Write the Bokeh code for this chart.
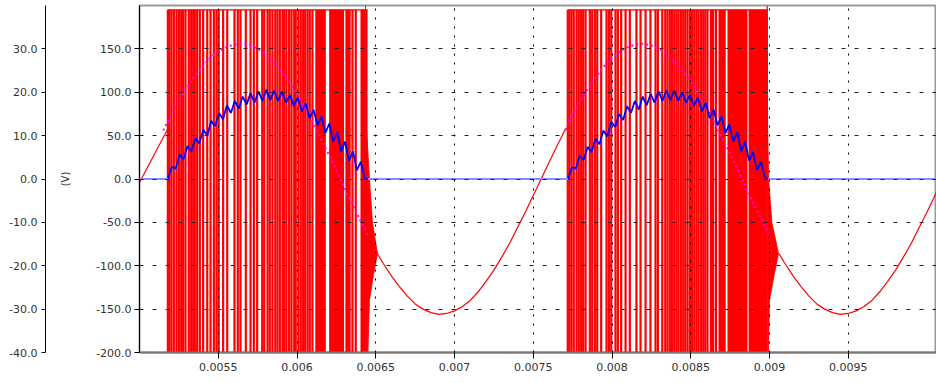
from bokeh.plotting import figure
from bokeh.models import Range1d, LinearAxis, FixedTicker, PrintfTickFormatter, CustomJSTickFormatter, Title
from bokeh.embed import file_html
from bokeh.resources import INLINE

# ---------------- data ----------------
x_ticks = [0.0055, 0.006, 0.0065, 0.007, 0.0075, 0.008, 0.0085, 0.009, 0.0095]
inner_ticks = [-200, -150, -100, -50, 0, 50, 100, 150]
outer_ticks = [-40, -30, -20, -10, 0, 10, 20, 30]

pulse_high = 195
pulse_low = -215

# switching pulses (red verticals), burst 1 and burst 2
pulse1_t = [0.005180, 0.005190, 0.005203, 0.005218, 0.005235, 0.005250, 0.005265, 0.005277,
            0.005292, 0.005313, 0.005328, 0.005341, 0.005351, 0.005366, 0.005383, 0.005404,
            0.005430, 0.005451, 0.005472, 0.005489, 0.005503, 0.005531, 0.005557, 0.005603,
            0.005624, 0.005641, 0.005675, 0.005705, 0.005726, 0.005747, 0.005779, 0.005792,
            0.005813, 0.005827, 0.005844, 0.005862, 0.005876, 0.005891, 0.005908, 0.005919,
            0.005933, 0.005950, 0.005965, 0.005982, 0.005992, 0.006009, 0.006024, 0.006039,
            0.006052, 0.006067, 0.006081, 0.006098, 0.006314, 0.006352, 0.006373]
band1_left = [0.006116, 0.006204, 0.006316, 0.006403]
band1_right = [0.006183, 0.006299, 0.006341, 0.006448]

pulse2_t = [0.007719, 0.007730, 0.007743, 0.007757, 0.007775, 0.007789, 0.007804, 0.007817,
            0.007832, 0.007859, 0.007874, 0.007891, 0.007906, 0.007931, 0.007965, 0.007980,
            0.007995, 0.008022, 0.008037, 0.008058, 0.008086, 0.008113, 0.008155, 0.008181,
            0.008213, 0.008244, 0.008276, 0.008291, 0.008319, 0.008338, 0.008352, 0.008367,
            0.008380, 0.008395, 0.008409, 0.008422, 0.008437, 0.008452, 0.008465, 0.008479,
            0.008494, 0.008507, 0.008522, 0.008536, 0.008549, 0.008564, 0.008579, 0.008592,
            0.008606, 0.008660]
band2_left = [0.008621, 0.008676, 0.008733, 0.008867]
band2_right = [0.008649, 0.008722, 0.008860, 0.008989]

# damped ringing after each burst (envelope)
ring1_t = [0.006435, 0.006441, 0.006460, 0.006479, 0.006511, 0.006486, 0.006460, 0.006448]
ring1_v = [200, 60, 0, -50, -86, -110, -140, -215]
ring2_t = [0.008985, 0.008988, 0.008994, 0.009015, 0.009057, 0.009030, 0.009000, 0.008990]
ring2_v = [200, 60, 0, -50, -86, -110, -140, -215]

# red voltage outside bursts
red_t1 = [0.00500, 0.00518]
red_v1 = [-4, 58]
red_t2 = [0.00651, 0.00655, 0.00660, 0.00665, 0.00670, 0.00675, 0.00680, 0.00685, 0.00690,
          0.00695, 0.00700, 0.00705, 0.00710, 0.00715, 0.00720, 0.00725, 0.00730, 0.00735,
          0.00740, 0.00745, 0.00750, 0.00755, 0.00760, 0.00765, 0.00770, 0.00772]
red_v2 = [-86, -98, -112, -124, -135, -144, -150, -154, -156,
          -155, -152, -147, -140, -130, -118, -105, -90, -74,
          -56, -38, -19, 0, 19, 38, 56, 60]
red_t3 = [0.00906, 0.00910, 0.00915, 0.00920, 0.00925, 0.00930, 0.00935, 0.00940, 0.00945,
          0.00950, 0.00955, 0.00960, 0.00965, 0.00970, 0.00975, 0.00980, 0.00985, 0.00990,
          0.00995, 0.01000, 0.01005, 0.01010]
red_v3 = [-86, -98, -112, -124, -135, -144, -150, -154, -156,
          -155, -152, -147, -140, -130, -118, -105, -90, -74,
          -56, -38, -19, 0]

# magenta reference (dotted) during the bursts
mag_t1 = [0.00515, 0.00520, 0.00525, 0.00530, 0.00535, 0.00540, 0.00545, 0.00550, 0.00555,
          0.00560, 0.00565, 0.00570, 0.00575, 0.00580, 0.00585, 0.00590, 0.00595, 0.00600,
          0.00605, 0.00610, 0.00615, 0.00620, 0.00625, 0.00630, 0.00635, 0.00640, 0.00645]
mag_v1 = [56, 74, 90, 105, 118, 130, 140, 147, 152, 155, 156, 154, 150, 144, 135, 124, 112, 98,
          82, 65, 47, 29, 10, -10, -29, -47, -65]
mag_t2 = [0.00770, 0.00775, 0.00780, 0.00785, 0.00790, 0.00795, 0.00800, 0.00805, 0.00810,
          0.00815, 0.00820, 0.00825, 0.00830, 0.00835, 0.00840, 0.00845, 0.00850, 0.00855,
          0.00860, 0.00865, 0.00870, 0.00875, 0.00880, 0.00885, 0.00890, 0.00895, 0.00900]
mag_v2 = [56, 74, 90, 105, 118, 130, 140, 147, 152, 155, 156, 154, 150, 144, 135, 124, 112, 98,
          82, 65, 47, 29, 10, -10, -29, -47, -65]

# blue trace
blue_flat_t = [[0.00500, 0.00518], [0.00645, 0.00772], [0.00899, 0.01010]]
blue_flat_v = [[0, 0], [0, 0], [0, 0]]
blue_t1 = [0.005180, 0.005205, 0.005230, 0.005255, 0.005280, 0.005305, 0.005330, 0.005355,
           0.005380, 0.005405, 0.005430, 0.005455, 0.005480, 0.005505, 0.005530, 0.005555,
           0.005580, 0.005605, 0.005630, 0.005655, 0.005680, 0.005705, 0.005730, 0.005755,
           0.005780, 0.005805, 0.005830, 0.005855, 0.005880, 0.005905, 0.005930, 0.005955,
           0.005980, 0.006005, 0.006030, 0.006055, 0.006080, 0.006105, 0.006130, 0.006155,
           0.006180, 0.006205, 0.006230, 0.006255, 0.006280, 0.006305, 0.006330, 0.006355,
           0.006380, 0.006405, 0.006430, 0.006450]
blue_v1 = [0, 14, 12, 28, 23, 38, 32, 47, 41, 57, 50, 67, 61, 76, 69, 85, 76, 90, 81, 95, 86,
           99, 88, 101, 90, 103, 91, 102, 90, 101, 88, 97, 84, 94, 78, 87, 70, 80, 62, 72, 53,
           64, 43, 54, 32, 43, 21, 32, 10, 20, 0, 0]
blue_t2 = [0.007720, 0.007745, 0.007770, 0.007795, 0.007820, 0.007845, 0.007870, 0.007895,
           0.007920, 0.007945, 0.007970, 0.007995, 0.008020, 0.008045, 0.008070, 0.008095,
           0.008120, 0.008145, 0.008170, 0.008195, 0.008220, 0.008245, 0.008270, 0.008295,
           0.008320, 0.008345, 0.008370, 0.008395, 0.008420, 0.008445, 0.008470, 0.008495,
           0.008520, 0.008545, 0.008570, 0.008595, 0.008620, 0.008645, 0.008670, 0.008695,
           0.008720, 0.008745, 0.008770, 0.008795, 0.008820, 0.008845, 0.008870, 0.008895,
           0.008920, 0.008945, 0.008970, 0.008990]
blue_v2 = [0, 13, 12, 27, 22, 37, 31, 46, 40, 56, 49, 66, 60, 75, 68, 84, 76, 90, 80, 95, 85,
           98, 88, 101, 90, 102, 91, 102, 90, 100, 88, 97, 84, 94, 78, 88, 70, 80, 62, 72, 53,
           63, 43, 54, 32, 43, 21, 31, 10, 20, 2, 0]

# ---------------- figure ----------------
FONT = "DejaVu Sans"
p = figure(width=936, height=383, output_backend="svg", toolbar_location=None,
           x_range=Range1d(0.005, 0.01006), y_range=Range1d(-200, 200),
           min_border_left=139, min_border_right=0, min_border_top=5, min_border_bottom=31)
p.extra_y_ranges = {"outer": Range1d(-40, 40)}
p.background_fill_color = "white"
p.border_fill_color = "white"
p.outline_line_color = "#999999"
p.outline_line_width = 2

# pulses
p.segment(x0=pulse1_t, y0=pulse_low, x1=pulse1_t, y1=pulse_high, line_color="#ff0000", line_width=2.2)
p.segment(x0=pulse2_t, y0=pulse_low, x1=pulse2_t, y1=pulse_high, line_color="#ff0000", line_width=2.2)
p.quad(left=band1_left, right=band1_right, bottom=pulse_low, top=pulse_high, color="#ff0000", line_width=0)
p.quad(left=band2_left, right=band2_right, bottom=pulse_low, top=pulse_high, color="#ff0000", line_width=0)
p.line([pulse1_t[0], band1_right[-1]], [pulse_high, pulse_high], line_color="#ff0000", line_width=1.2)
p.line([pulse2_t[0], band2_right[-1]], [pulse_high, pulse_high], line_color="#ff0000", line_width=1.2)
p.patch(ring1_t, ring1_v, color="#ff0000", line_width=0.8)
p.patch(ring2_t, ring2_v, color="#ff0000", line_width=0.8)

for t, v in [(red_t1, red_v1), (red_t2, red_v2), (red_t3, red_v3)]:
    p.line(t, v, line_color="#ff0000", line_width=1.2)

for t, v in [(mag_t1, mag_v1), (mag_t2, mag_v2)]:
    p.line(t, v, line_color="#ff00ff", line_width=2, line_dash="2 3")

for t, v in [(blue_t1, blue_v1), (blue_t2, blue_v2)]:
    p.line(t, v, line_color="#0000ff", line_width=1.8)
p.multi_line(blue_flat_t, blue_flat_v, line_color="#8c8cff", line_width=2, level="overlay")

# grid
p.xgrid.ticker = FixedTicker(ticks=x_ticks)
p.ygrid.ticker = FixedTicker(ticks=inner_ticks)
p.xgrid.grid_line_color = "black"
p.xgrid.grid_line_dash = "2 7"
p.ygrid.grid_line_color = "#222222"
p.ygrid.grid_line_dash = "4 9"
p.xgrid.level = "overlay"
p.ygrid.level = "overlay"

# x axis
xa = p.xaxis[0]
xa.ticker = FixedTicker(ticks=x_ticks)
xa.formatter = CustomJSTickFormatter(code="return tick.toFixed(4).replace(/0+$/, '');")
xa.major_tick_out = 6
xa.major_tick_in = 0
xa.minor_tick_line_color = None
xa.major_label_standoff = 4
xa.axis_line_color = "#777777"
xa.axis_line_width = 2
xa.major_label_text_font = FONT
xa.major_label_text_font_size = "11px"
xa.major_label_text_color = "#333333"

# inner y axis
ya = p.yaxis[0]
ya.ticker = FixedTicker(ticks=inner_ticks)
ya.formatter = PrintfTickFormatter(format="%.1f")
ya.major_tick_out = 5
ya.major_tick_in = 0
ya.minor_tick_line_color = None
ya.major_label_standoff = 3
ya.axis_line_color = "black"
ya.major_label_text_font = FONT
ya.major_label_text_font_size = "11px"
ya.major_label_text_color = "#333333"
ya.axis_label = "(V)"
ya.axis_label_standoff = 22
ya.axis_label_text_font = FONT
ya.axis_label_text_font_size = "10px"
ya.axis_label_text_font_style = "normal"
ya.axis_label_text_color = "#333333"

# spacer between "(V)" and the outer axis
p.add_layout(Title(text=" ", text_font_size="2px", standoff=8), "left")

# outer y axis
oa = LinearAxis(y_range_name="outer", ticker=FixedTicker(ticks=outer_ticks),
                formatter=PrintfTickFormatter(format="%.1f"))
oa.major_tick_out = 4
oa.major_tick_in = 0
oa.minor_tick_line_color = None
oa.major_label_standoff = 4
oa.axis_line_color = "black"
oa.major_label_text_font = FONT
oa.major_label_text_font_size = "11px"
oa.major_label_text_color = "#333333"
p.add_layout(oa, "left")

open("out.html", "w").write(file_html(p, INLINE))
